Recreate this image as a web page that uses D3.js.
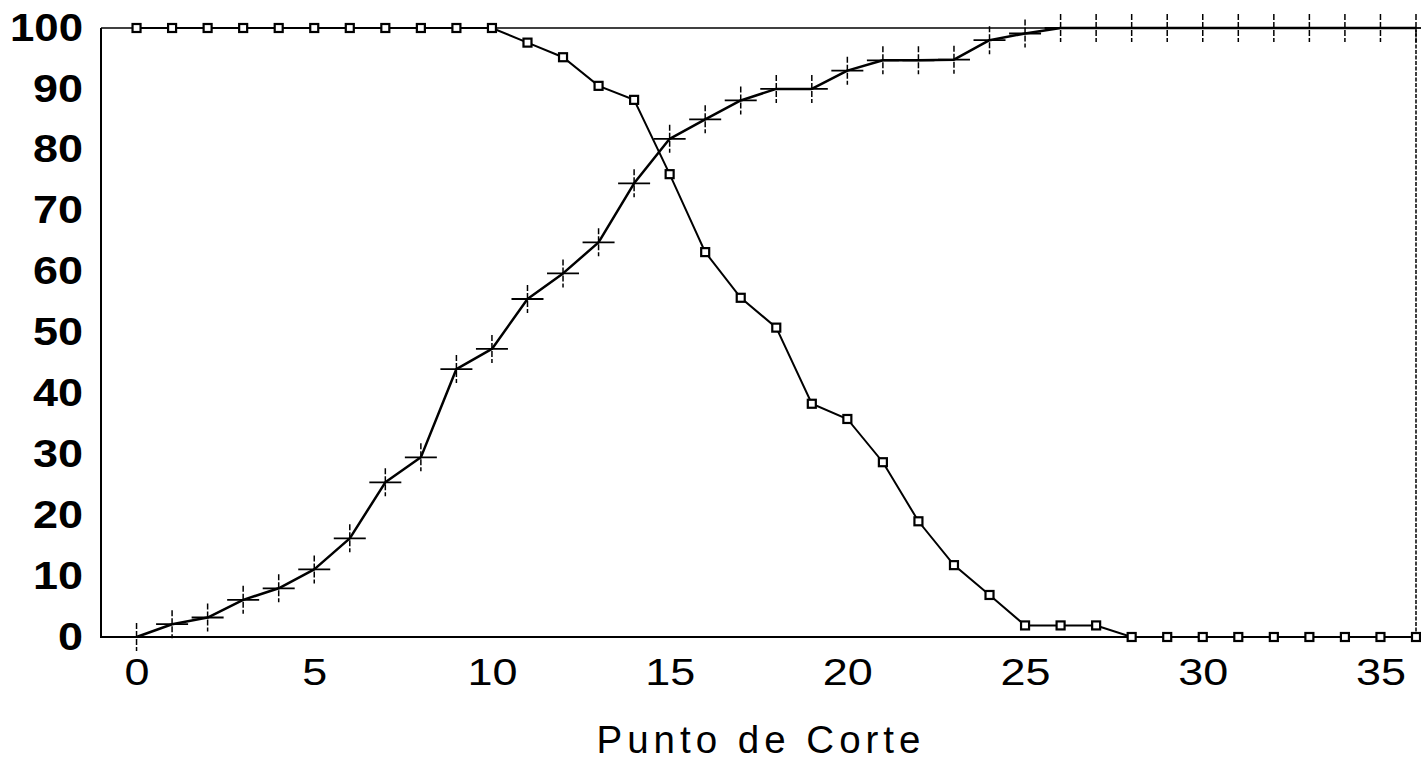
<!DOCTYPE html>
<html>
<head>
<meta charset="utf-8">
<script src="https://cdn.jsdelivr.net/npm/d3@7"></script>
<style>
  html, body { margin: 0; padding: 0; background: #fff; }
  svg { display: block; }
</style>
</head>
<body>
<svg id="chart" width="1421" height="761"></svg>
<script>
// ---- data ----
const cutPoints = d3.range(0, 37); // Punto de Corte 0..36
const sensitivity = [0, 2.1, 3.2, 6.1, 8.0, 11.1, 16.2, 25.4, 29.5, 44.0, 47.3, 55.5, 59.7, 64.8, 74.5, 81.8, 85.0, 88.1, 90.0, 90.0, 93.0, 94.7, 94.7, 94.8, 98.0, 99.1, 100, 100, 100, 100, 100, 100, 100, 100, 100, 100, 100];
const specificity = [100, 100, 100, 100, 100, 100, 100, 100, 100, 100, 100, 97.6, 95.2, 90.5, 88.2, 76.0, 63.2, 55.7, 50.8, 38.3, 35.8, 28.7, 19.0, 11.8, 6.9, 1.9, 1.9, 1.9, 0, 0, 0, 0, 0, 0, 0, 0, 0];
const xTicks = [0, 5, 10, 15, 20, 25, 30, 35];
const yTicks = [0, 10, 20, 30, 40, 50, 60, 70, 80, 90, 100];
const xTitle = "Punto de Corte";

// ---- layout ----
const svg = d3.select("#chart");
const mLeft = 101, mRight = 1416, mTop = 28, mBottom = 637;
const x = d3.scaleLinear().domain([-1, 36]).range([mLeft, mRight]);
const y = d3.scaleLinear().domain([0, 100]).range([mBottom, mTop]);
const font = "'Liberation Sans', Arial, Helvetica, sans-serif";
const digitW = n => [0, 25, 50, 73][n];

// frame
svg.append("line").attr("x1", mLeft).attr("x2", mRight).attr("y1", mTop).attr("y2", mTop)
  .attr("stroke", "#000").attr("stroke-width", 1.5);
svg.append("line").attr("x1", mRight).attr("x2", mRight).attr("y1", mTop).attr("y2", mBottom)
  .attr("stroke", "#000").attr("stroke-width", 1.5).attr("stroke-dasharray", "4,1.5");
svg.append("line").attr("x1", mLeft).attr("x2", mLeft).attr("y1", mTop).attr("y2", mBottom + 1)
  .attr("stroke", "#000").attr("stroke-width", 2);
svg.append("line").attr("x1", mLeft).attr("x2", mRight).attr("y1", mBottom).attr("y2", mBottom)
  .attr("stroke", "#000").attr("stroke-width", 2);

// axes
const xAxis = svg.append("g").attr("transform", `translate(0,${mBottom})`)
  .call(d3.axisBottom(x).tickValues(xTicks).tickSize(0).tickPadding(22).tickFormat(d3.format("d")));
xAxis.select(".domain").remove();
xAxis.selectAll("text").attr("font-family", font).attr("font-size", 36.5)
  .attr("textLength", d => digitW(String(d).length)).attr("lengthAdjust", "spacingAndGlyphs")
  .attr("fill", "#000");

const yAxis = svg.append("g").attr("transform", `translate(${mLeft},0)`)
  .call(d3.axisLeft(y).tickValues(yTicks).tickSize(0).tickPadding(18).tickFormat(d3.format("d")));
yAxis.select(".domain").remove();
yAxis.selectAll("text").attr("font-family", font).attr("font-size", 38).attr("font-weight", "bold")
  .attr("textLength", d => digitW(String(d).length)).attr("lengthAdjust", "spacingAndGlyphs")
  .attr("fill", "#000");

// title (slightly letter-spaced)
const ls = 5;
svg.append("text").attr("x", (mLeft + mRight) / 2 + ls / 2).attr("y", 753)
  .attr("text-anchor", "middle").attr("font-family", font).attr("font-size", 38.5)
  .attr("letter-spacing", ls).attr("fill", "#000").text(xTitle);

// lines
const sensData = cutPoints.map((c, i) => ({ x: c, y: sensitivity[i] }));
const specData = cutPoints.map((c, i) => ({ x: c, y: specificity[i] }));

svg.append("path").datum(sensData)
  .attr("fill", "none").attr("stroke", "#000").attr("stroke-width", 2.5)
  .attr("stroke-linejoin", "round")
  .attr("d", d3.line().x(d => x(d.x)).y(d => y(d.y)));

svg.append("path").datum(specData)
  .attr("fill", "none").attr("stroke", "#000").attr("stroke-width", 2)
  .attr("d", d3.line().x(d => x(d.x)).y(d => y(d.y)));

// cross markers
const crosses = svg.append("g").selectAll("g").data(sensData).join("g")
  .attr("transform", d => `translate(${x(d.x)},${y(d.y)})`);
crosses.append("line").attr("x1", -16).attr("x2", 16).attr("y1", 0).attr("y2", 0)
  .attr("stroke", "#000").attr("stroke-width", 1.8);
crosses.append("line").attr("x1", 0).attr("x2", 0).attr("y1", -14).attr("y2", 14)
  .attr("stroke", "#000").attr("stroke-width", 1.5).attr("stroke-dasharray", "6,2");

// square markers
svg.append("g").selectAll("rect").data(specData).join("rect")
  .attr("x", d => x(d.x) - 4).attr("y", d => y(d.y) - 4)
  .attr("width", 8).attr("height", 8)
  .attr("fill", "#fff").attr("stroke", "#000").attr("stroke-width", 2.2);
</script>
</body>
</html>
